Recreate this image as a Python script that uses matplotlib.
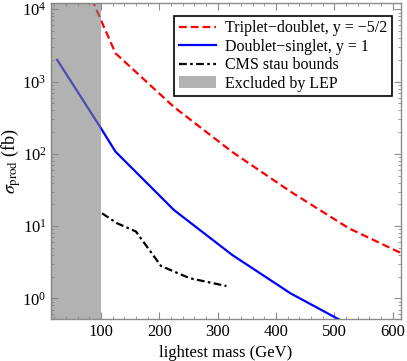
import matplotlib.pyplot as plt
from matplotlib.patches import Patch
from matplotlib.ticker import MultipleLocator, LogLocator

plt.rcParams["font.family"] = ["Liberation Serif", "DejaVu Serif"]
plt.rcParams["mathtext.fontset"] = "stix"

# triplet-doublet, y = -5/2
td_mass = [75, 100, 125, 225, 325, 425, 525, 615]
td_xsec = [21000, 7100, 2460, 445, 106, 29.9, 9.3, 4.2]

# doublet-singlet, y = 1
ds_mass = [25, 100, 125, 225, 325, 425, 525]
ds_xsec = [2000, 226, 107, 16.7, 3.98, 1.17, 0.43]

# CMS stau bounds
cms_mass = [102, 128, 160, 203, 252, 315]
cms_xsec = [15.0, 10.9, 8.4, 2.8, 1.9, 1.48]

lep_limit = 100

fig = plt.figure(figsize=(4.07, 3.61), dpi=100)
ax = fig.add_axes([0.1246, 0.1163, 0.8604, 0.8754])

ax.plot(td_mass, td_xsec, color="red", lw=1.6, dashes=(3.5, 1.8))
ax.plot(ds_mass, ds_xsec, color="blue", lw=1.6)
ax.plot(cms_mass, cms_xsec, color="black", lw=1.6, dashes=(3.5, 1.5, 1.2, 1.5))
ax.axvspan(0, lep_limit, color="#808080", alpha=0.6, lw=0, zorder=3)

ax.set_yscale("log")
ax.set_xlim(14, 614)
ax.set_ylim(0.517, 12200)
ax.xaxis.set_major_locator(MultipleLocator(100))
ax.xaxis.set_minor_locator(MultipleLocator(20))
ax.yaxis.set_minor_locator(LogLocator(subs=range(2, 10)))

for s in ax.spines.values():
    s.set_color("#8c8c8c")
    s.set_linewidth(1.0)
ax.tick_params(which="both", direction="in", top=True, right=True,
               color="#8c8c8c", labelsize=12)
ax.tick_params(axis="y", pad=3)
ax.tick_params(which="major", length=5)
ax.tick_params(which="minor", length=2.5)

ax.set_xlabel("lightest mass (GeV)", fontsize=12)
ax.set_ylabel(r"$\sigma_{\rm prod}$ (fb)", fontsize=13)
ax.yaxis.set_label_coords(-0.078, 0.5)

handles = [
    plt.Line2D([], [], color="red", lw=1.6, dashes=(3.5, 1.8)),
    plt.Line2D([], [], color="blue", lw=1.6),
    plt.Line2D([], [], color="black", lw=1.6, dashes=(3.5, 1.5, 1.2, 1.5)),
    Patch(facecolor="#808080", alpha=0.6, lw=0),
]
labels = [
    "Triplet\u2212doublet, y = \u22125/2",
    "Doublet\u2212singlet, y = 1",
    "CMS stau bounds",
    "Excluded by LEP",
]
leg = ax.legend(handles, labels, loc="upper right", bbox_to_anchor=(0.975, 0.96),
                fontsize=11.5, fancybox=False, framealpha=1, edgecolor="black",
                handlelength=2.3, handletextpad=0.6, labelspacing=0.15,
                borderpad=0.3, borderaxespad=0)
leg.get_frame().set_linewidth(1.2)
leg.set_zorder(5)

fig.savefig("out.png", dpi=100)
